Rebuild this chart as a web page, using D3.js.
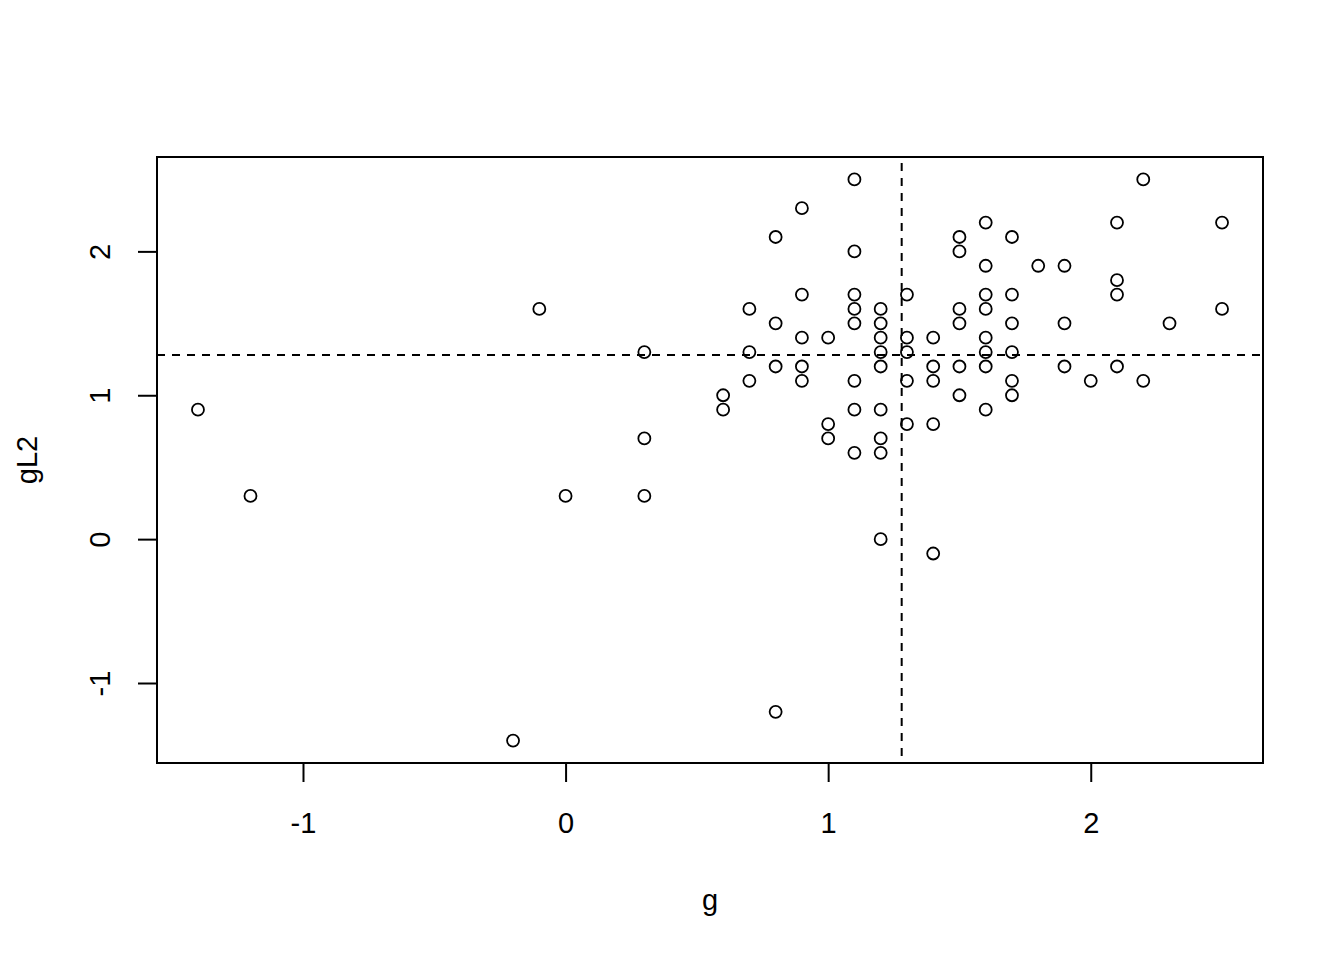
<!DOCTYPE html>
<html>
<head>
<meta charset="utf-8">
<script src="https://cdn.jsdelivr.net/npm/d3@7"></script>
<style>
html,body{margin:0;padding:0;background:#fff;}
svg text{font-family:"Liberation Sans",Arial,sans-serif;fill:#000;}
</style>
</head>
<body>
<svg id="chart" width="1344" height="960"></svg>
<script>
// Data (g vs gL2)
const gValues = [
  -1.4, -1.2, -0.2, -0.1, 0.0,
  0.3, 0.3, 0.3,
  0.6, 0.6,
  0.7, 0.7, 0.7,
  0.8, 0.8, 0.8, 0.8,
  0.9, 0.9, 0.9, 0.9, 0.9,
  1.0, 1.0, 1.0,
  1.1, 1.1, 1.1, 1.1, 1.1, 1.1, 1.1, 1.1,
  1.2, 1.2, 1.2, 1.2, 1.2, 1.2, 1.2, 1.2, 1.2,
  1.3, 1.3, 1.3, 1.3, 1.3,
  1.4, 1.4, 1.4, 1.4, 1.4,
  1.5, 1.5, 1.5, 1.5, 1.5, 1.5,
  1.6, 1.6, 1.6, 1.6, 1.6, 1.6, 1.6, 1.6,
  1.7, 1.7, 1.7, 1.7, 1.7, 1.7,
  1.8,
  1.9, 1.9, 1.9,
  2.0,
  2.1, 2.1, 2.1, 2.1,
  2.2, 2.2,
  2.3,
  2.5, 2.5
];
const gL2Values = [
  0.9, 0.3, -1.4, 1.6, 0.3,
  1.3, 0.7, 0.3,
  1.0, 0.9,
  1.6, 1.3, 1.1,
  2.1, 1.5, 1.2, -1.2,
  2.3, 1.7, 1.4, 1.2, 1.1,
  1.4, 0.8, 0.7,
  2.5, 2.0, 1.7, 1.6, 1.5, 1.1, 0.9, 0.6,
  1.6, 1.5, 1.4, 1.3, 1.2, 0.9, 0.7, 0.6, 0.0,
  1.7, 1.4, 1.3, 1.1, 0.8,
  1.4, 1.2, 1.1, 0.8, -0.1,
  2.1, 2.0, 1.6, 1.5, 1.2, 1.0,
  2.2, 1.9, 1.7, 1.6, 1.4, 1.3, 1.2, 0.9,
  2.1, 1.7, 1.5, 1.3, 1.1, 1.0,
  1.9,
  1.9, 1.5, 1.2,
  1.1,
  2.2, 1.8, 1.7, 1.2,
  2.5, 1.1,
  1.5,
  2.2, 1.6
];
const xTicks = [-1, 0, 1, 2];
const yTicks = [-1, 0, 1, 2];
const vLineX = 1.28;   // vertical dashed reference line (g)
const hLineY = 1.28;   // horizontal dashed reference line (gL2)
const xLabel = "g";
const yLabel = "gL2";

const points = gValues.map((g, i) => ({g: g, gL2: gL2Values[i]}));

const svg = d3.select("#chart");
const pLeft = 157, pRight = 1263, pTop = 157, pBottom = 763;
const fontSize = 29;

function pad(ext) { const d = (ext[1] - ext[0]) * 0.04; return [ext[0] - d, ext[1] + d]; }
const x = d3.scaleLinear().domain(pad(d3.extent(gValues))).range([pLeft, pRight]);
const y = d3.scaleLinear().domain(pad(d3.extent(gL2Values))).range([pBottom, pTop]);

// Clip for reference lines
svg.append("defs").append("clipPath").attr("id", "plotclip")
  .append("rect").attr("x", pLeft).attr("y", pTop).attr("width", pRight - pLeft).attr("height", pBottom - pTop);

// Reference lines
const refs = svg.append("g").attr("clip-path", "url(#plotclip)");
refs.append("line")
  .attr("x1", x(vLineX)).attr("x2", x(vLineX))
  .attr("y1", pTop + 6).attr("y2", pBottom)
  .attr("stroke", "#000").attr("stroke-width", 2).attr("stroke-dasharray", "8,7");
refs.append("line")
  .attr("x1", pLeft).attr("x2", pRight)
  .attr("y1", y(hLineY)).attr("y2", y(hLineY))
  .attr("stroke", "#000").attr("stroke-width", 2).attr("stroke-dasharray", "8,7");

// Points
svg.append("g").selectAll("circle").data(points).join("circle")
  .attr("cx", d => x(d.g))
  .attr("cy", d => y(d.gL2))
  .attr("r", 6)
  .attr("fill", "none")
  .attr("stroke", "#000")
  .attr("stroke-width", 1.8);

// Box
svg.append("rect")
  .attr("x", pLeft).attr("y", pTop).attr("width", pRight - pLeft).attr("height", pBottom - pTop)
  .attr("fill", "none").attr("stroke", "#000").attr("stroke-width", 2);

// X axis
const xAxis = d3.axisBottom(x).tickValues(xTicks).tickSize(19).tickSizeOuter(0).tickFormat(d3.format("d"));
const gx = svg.append("g").attr("transform", `translate(0,${pBottom})`).call(xAxis);
gx.select(".domain").attr("d", `M${x(xTicks[0])},0H${x(xTicks[xTicks.length-1])}`).attr("stroke-width", 2);
gx.selectAll(".tick line").attr("stroke-width", 2);
gx.selectAll(".tick text")
  .attr("y", 70).attr("dy", null)
  .style("font-size", fontSize + "px")
  .style("font-family", "Liberation Sans, Arial, sans-serif")
  .text(d => d < 0 ? "-" + Math.abs(d) : String(d));

// Y axis
const yAxis = d3.axisLeft(y).tickValues(yTicks).tickSize(19).tickSizeOuter(0).tickFormat(d3.format("d"));
const gy = svg.append("g").attr("transform", `translate(${pLeft},0)`).call(yAxis);
gy.select(".domain").attr("d", `M0,${y(yTicks[0])}V${y(yTicks[yTicks.length-1])}`).attr("stroke-width", 2);
gy.selectAll(".tick line").attr("stroke-width", 2);
gy.selectAll(".tick text")
  .attr("x", null).attr("dy", null)
  .attr("text-anchor", "middle")
  .attr("transform", "translate(-47,0) rotate(-90)")
  .attr("y", 0)
  .style("font-size", fontSize + "px")
  .style("font-family", "Liberation Sans, Arial, sans-serif")
  .text(d => d < 0 ? "-" + Math.abs(d) : String(d));

// Axis titles
svg.append("text")
  .attr("x", (pLeft + pRight) / 2).attr("y", 910)
  .attr("text-anchor", "middle")
  .style("font-size", fontSize + "px")
  .text(xLabel);
svg.append("text")
  .attr("transform", `translate(37,${(pTop + pBottom) / 2}) rotate(-90)`)
  .attr("text-anchor", "middle")
  .style("font-size", fontSize + "px")
  .text(yLabel);
</script>
</body>
</html>
